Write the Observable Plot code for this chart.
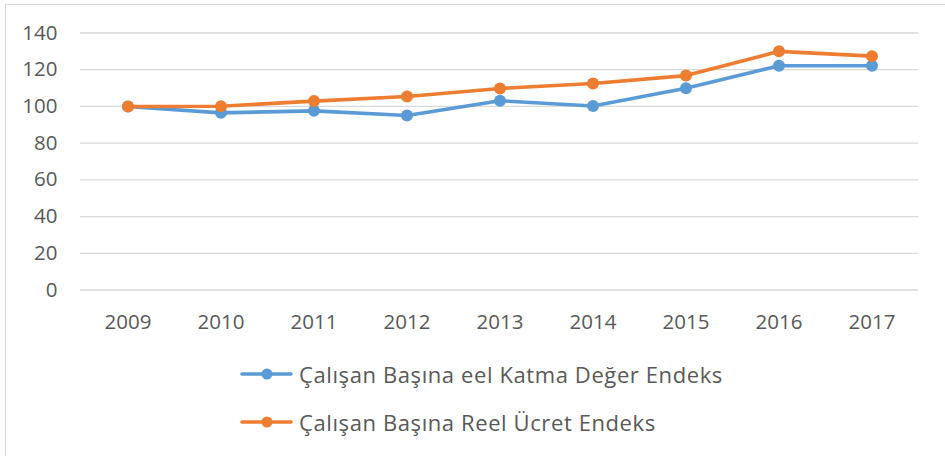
<!DOCTYPE html>
<html>
<head>
<meta charset="utf-8">
<script src="https://cdn.jsdelivr.net/npm/d3@7"></script>
<script src="https://cdn.jsdelivr.net/npm/@observablehq/plot@0.6"></script>
<style>
  html, body { margin: 0; padding: 0; background: #fff; }
  #wrap { position: relative; width: 945px; height: 456px; overflow: hidden; font-family: "Open Sans", sans-serif; }
  #frame { position: absolute; left: 5px; top: 4px; right: -2px; bottom: -2px; border-left: 1px solid #d9d9d9; border-top: 1px solid #d9d9d9; pointer-events: none; }
  #chart { position: absolute; left: 0; top: 0; }
  #legend { position: absolute; left: 240px; top: 345px; color: #595959; font-size: 22px; letter-spacing: 0.6px; white-space: nowrap; }
  .row { display: flex; align-items: center; height: 48px; }
  .row:first-child { margin-top: 5px; }
  .sw { width: 53px; height: 14px; margin-right: 6px; }
</style>
</head>
<body>
<div id="wrap">
  <div id="chart"></div>
  <div id="legend"></div>
  <div id="frame"></div>
</div>
<script>
const years = ["2009","2010","2011","2012","2013","2014","2015","2016","2017"];
const katmaDeger = [100, 96.5, 97.6, 95.1, 103.1, 100.2, 109.9, 122.2, 122.2];
const reelUcret = [100, 100.1, 102.9, 105.4, 109.8, 112.5, 116.8, 130.0, 127.4];
const seriesNames = ["Çalışan Başına eel Katma Değer Endeks", "Çalışan Başına Reel Ücret Endeks"];
const seriesColors = ["#5b9bd5", "#ed7d31"];
const yTicks = [0, 20, 40, 60, 80, 100, 120, 140];

const data = [
  ...years.map((y, i) => ({year: y, value: katmaDeger[i], series: seriesNames[0]})),
  ...years.map((y, i) => ({year: y, value: reelUcret[i], series: seriesNames[1]}))
];

const lineMarks = seriesNames.flatMap(name => {
  const d = data.filter(r => r.series === name);
  return [
    Plot.line(d, {x: "year", y: "value", stroke: "series", strokeWidth: 3.6, strokeLinejoin: "round", strokeLinecap: "round"}),
    Plot.dot(d, {x: "year", y: "value", fill: "series", r: 6, stroke: "none"})
  ];
});

const chart = Plot.plot({
  width: 945,
  height: 345,
  marginLeft: 80,
  marginRight: 27,
  marginTop: 32.5,
  marginBottom: 55.5,
  style: {fontFamily: "Open Sans, sans-serif", fontSize: "20px", color: "#595959", background: "transparent"},
  x: {type: "band", domain: years, paddingInner: 0, paddingOuter: 0, label: null},
  y: {domain: [0, 140], ticks: yTicks, label: null},
  color: {domain: seriesNames, range: seriesColors},
  marks: [
    Plot.gridY(yTicks, {stroke: "#d9d9d9", strokeOpacity: 1, strokeWidth: 1.3}),
    Plot.axisY(yTicks, {tickSize: 0, tickPadding: 23, fill: "#595959", fontSize: 20.5}),
    Plot.axisX(years, {tickSize: 0, tickPadding: 24, fill: "#595959", fontSize: 20.5}),
    ...lineMarks
  ]
});
document.getElementById("chart").appendChild(chart);

const legend = document.getElementById("legend");
seriesNames.forEach((name, i) => {
  const row = document.createElement("div");
  row.className = "row";
  row.innerHTML = `<svg class="sw" width="53" height="14"><line x1="2" y1="7" x2="51" y2="7" stroke="${seriesColors[i]}" stroke-width="3.6" stroke-linecap="round"/><circle cx="27" cy="7" r="5.5" fill="${seriesColors[i]}"/></svg><span>${name}</span>`;
  legend.appendChild(row);
});
</script>
</body>
</html>
